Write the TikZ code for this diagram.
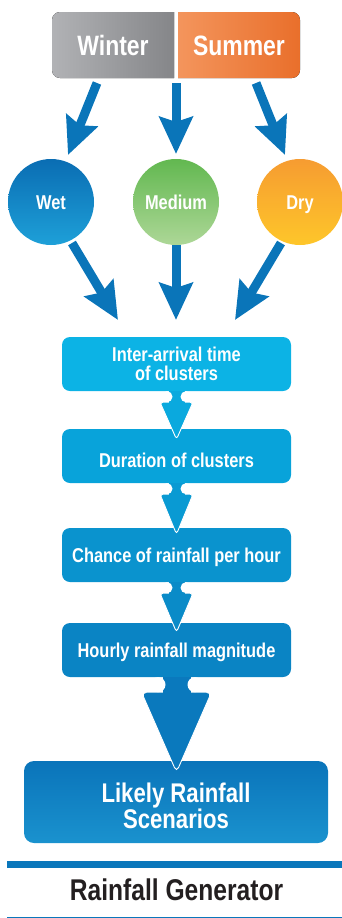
\documentclass[tikz,border=0pt]{standalone}
\usepackage{fontspec}
\setmainfont{Liberation Sans}[FakeStretch=0.82]
\usetikzlibrary{arrows.meta}

\definecolor{winA}{HTML}{B1B2B5}
\definecolor{winB}{HTML}{7F8083}
\definecolor{sumA}{HTML}{F59A63}
\definecolor{sumB}{HTML}{E96F2B}
\definecolor{arrowblue}{HTML}{0A75B9}
\definecolor{wetA}{HTML}{0A6DB3}
\definecolor{wetB}{HTML}{1EA0D8}
\definecolor{medA}{HTML}{62B850}
\definecolor{medB}{HTML}{ADD797}
\definecolor{dryA}{HTML}{F69C31}
\definecolor{dryB}{HTML}{FEC62A}
\definecolor{boxA}{HTML}{0CB3E5}
\definecolor{boxB}{HTML}{08A3DA}
\definecolor{boxC}{HTML}{0A93CE}
\definecolor{boxD}{HTML}{0A84C4}
\definecolor{boxEa}{HTML}{0A74BA}
\definecolor{boxEb}{HTML}{1A92CE}
\definecolor{conA}{HTML}{0AA9DE}
\definecolor{conB}{HTML}{099AD3}
\definecolor{conC}{HTML}{0A8BC8}
\definecolor{conD}{HTML}{0A79BD}
\definecolor{titlegray}{HTML}{231F20}
\definecolor{rulecol}{HTML}{0A77BB}

\newcommand{\smallconn}[3]{%
  \begin{scope}[shift={(#1.south)}]
    \fill[#3, draw=white, line width=0.9pt, rounded corners=3pt] (-16.5,11) -- (16.5,11) -- (0,#2) -- cycle;
    \fill[#3] (-8,-0.5) rectangle (8,12);
    \fill[white] (-9.5,5.5) circle[radius=5.5] (9.5,5.5) circle[radius=5.5];
  \end{scope}}

\begin{document}
\begin{tikzpicture}[x=1pt,y=-1pt,
  bigarrow/.style={draw=arrowblue, line width=9pt, -{Stealth[length=37pt,width=33pt,inset=5pt]}},
  seasontext/.style={inner sep=0pt, minimum width=122pt, minimum height=66pt, text=white,
     font=\bfseries\fontsize{28}{28}\selectfont, text height=20pt, text depth=0pt},
  circ/.style={circle, minimum size=86pt, inner sep=0pt, text=white,
     font=\bfseries\fontsize{20}{20}\selectfont, text height=14.3pt, text depth=0pt},
  procbox/.style={rectangle, rounded corners=8pt, minimum width=229pt, minimum height=54pt,
     inner sep=0pt, text=white, align=center, font=\bfseries\fontsize{20}{19}\selectfont},
  oneline/.style={text height=14.3pt, text depth=0pt},
]
\useasboundingbox (0,0) rectangle (342,918);

% season boxes
\begin{scope}
  \clip (52,12) rectangle (174,78);
  \fill[left color=winA, right color=winB, rounded corners=8pt] (52,12) rectangle (190,78);
\end{scope}
\begin{scope}
  \clip (178,12) rectangle (300,78);
  \fill[left color=sumA, right color=sumB, rounded corners=8pt] (162,12) rectangle (300,78);
\end{scope}
\node[seasontext] (winter) at (113,45) {Winter};
\node[seasontext] (summer) at (239,45) {Summer};

% arrows from seasons to categories
\coordinate (w1s) at (97,83);  \coordinate (w1t) at (68,155);
\coordinate (w2s) at (176,83); \coordinate (w2t) at (176,154);
\coordinate (w3s) at (256,83); \coordinate (w3t) at (285,155);
\draw[bigarrow] (w1s) -- (w1t);
\draw[bigarrow] (w2s) -- (w2t);
\draw[bigarrow] (w3s) -- (w3t);

% arrows from categories to first box
\coordinate (c1s) at (72,243);  \coordinate (c1t) at (118,320);
\coordinate (c2s) at (176,245); \coordinate (c2t) at (176,320);
\coordinate (c3s) at (281,243); \coordinate (c3t) at (235,320);
\draw[bigarrow] (c1s) -- (c1t);
\draw[bigarrow] (c2s) -- (c2t);
\draw[bigarrow] (c3s) -- (c3t);

% circles
\node[circ, top color=wetA, bottom color=wetB] (wet) at (51,202) {Wet};
\node[circ, top color=medA, bottom color=medB] (medium) at (176,202) {Medium};
\node[circ, top color=dryA, bottom color=dryB] (dry) at (300,202) {Dry};

% process boxes
\node[procbox, fill=boxA] (b1) at (176.5,364) {Inter-arrival time\\of clusters};
\node[procbox, fill=boxB, text height=22.3pt, text depth=0pt] (b2) at (176.5,456) {Duration of clusters};
\node[procbox, oneline, fill=boxC] (b3) at (176.5,555) {Chance of rainfall per hour};
\node[procbox, oneline, fill=boxD] (b4) at (176.5,650) {Hourly rainfall magnitude};
\node[procbox, top color=boxEa, bottom color=boxEb, minimum width=304pt, minimum height=82pt,
      rounded corners=10pt] (b5) at (176,802) {};
\node[inner sep=0pt, text=white, align=center, font=\bfseries\fontsize{27}{26}\selectfont]
      (b5label) at (176,806) {Likely Rainfall\\Scenarios};

% puzzle connectors
\smallconn{b1}{48}{conA}
\smallconn{b2}{51}{conB}
\smallconn{b3}{50}{conC}
\begin{scope}[shift={(b4.south)}]
  \fill[conD, draw=white, line width=0.9pt, rounded corners=5pt] (-35,15) -- (35,15) -- (0,95) -- cycle;
  \fill[conD] (-14,-0.5) rectangle (14,16);
  \fill[white] (-18.5,7.5) circle[radius=7.5] (18.5,7.5) circle[radius=7.5];
\end{scope}

% footer
\fill[rulecol] (7,861) rectangle (342,868);
\node[inner sep=0pt, text=titlegray, font=\bfseries\fontsize{30}{30}\selectfont,
      text height=21.5pt, text depth=0pt] (title) at (176.5,890) {Rainfall Generator};
\draw[rulecol, line width=1pt] (7,917) -- (342,917);
\end{tikzpicture}
\end{document}
